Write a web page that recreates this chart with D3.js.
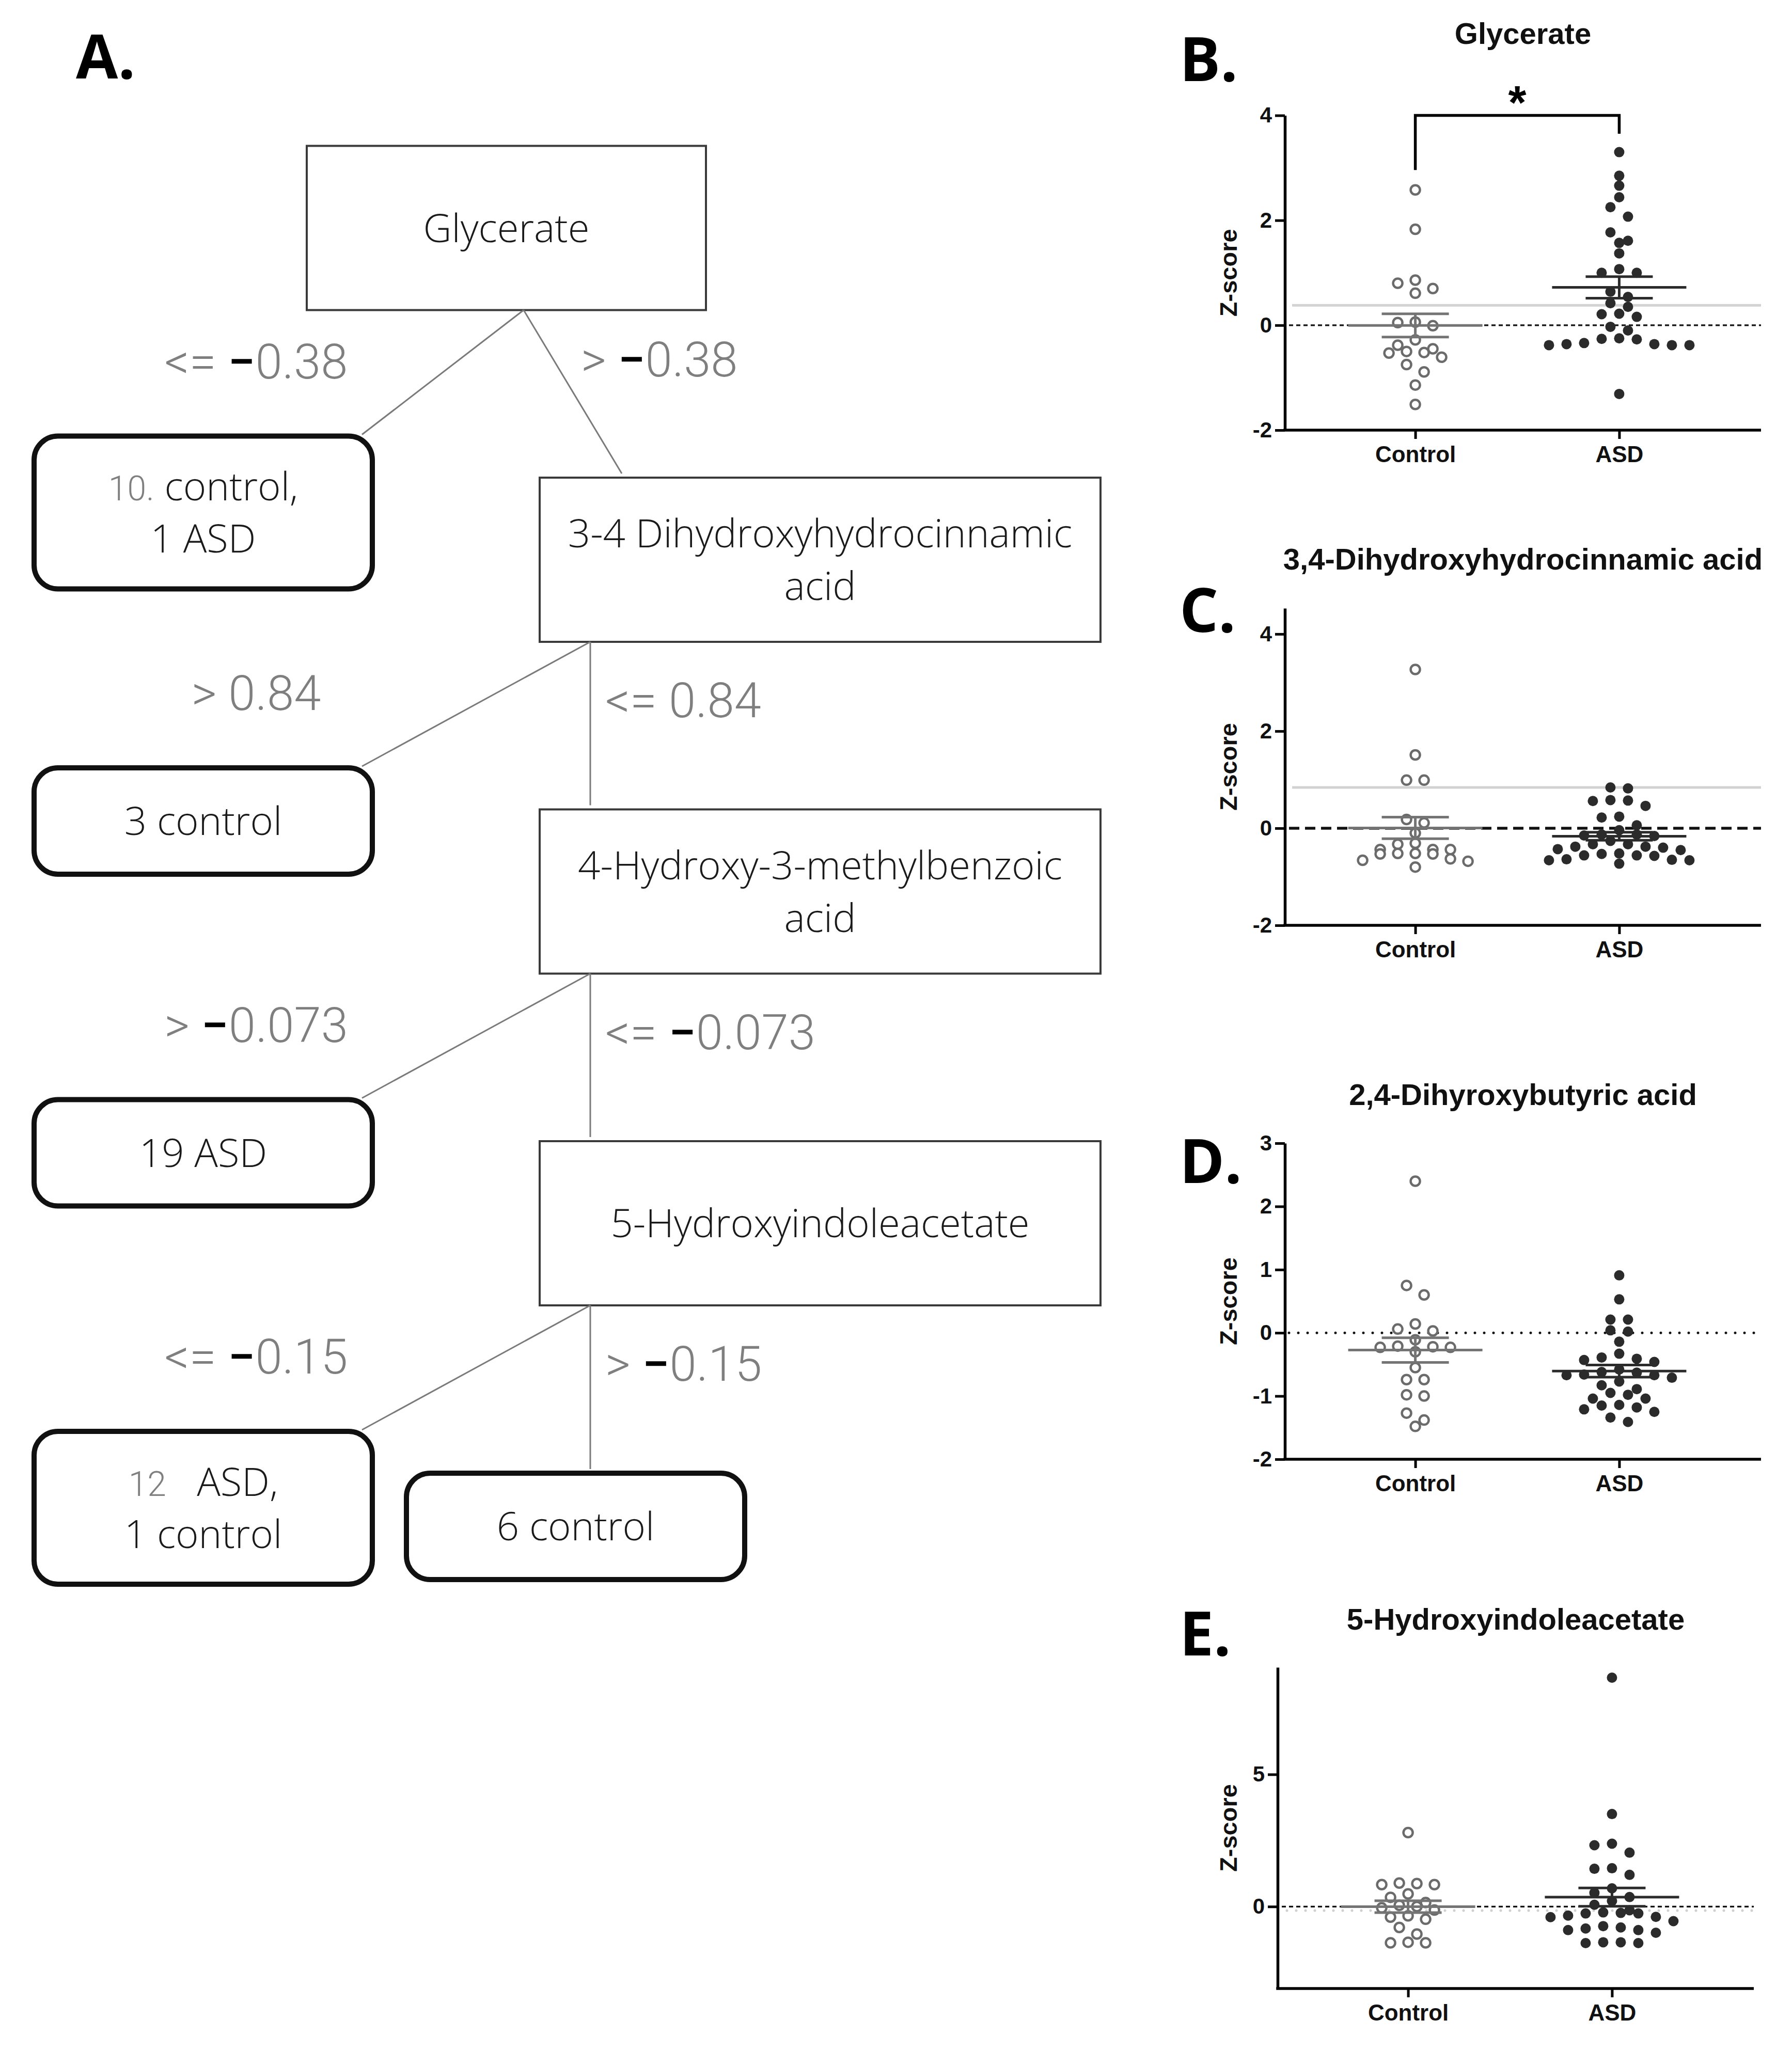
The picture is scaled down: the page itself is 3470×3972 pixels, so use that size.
<!DOCTYPE html>
<html>
<head>
<meta charset="utf-8">
<script src="https://cdn.jsdelivr.net/npm/d3@7"></script>
<style>
  body { margin: 0; background: #fff; }
</style>
</head>
<body>
<div id="fig"></div>
<script>
"use strict"

// ---- tree (panel A) ----
const splitNames = [["Glycerate"], ["3-4 Dihydroxyhydrocinnamic", "acid"],
    ["4-Hydroxy-3-methylbenzoic", "acid"], ["5-Hydroxyindoleacetate"]];
const leftRules = [["<= ", "−", "0.38"], ["> ", "", "0.84"], ["> ", "−", "0.073"], ["<= ", "−", "0.15"]];
const rightRules = [["> ", "−", "0.38"], ["<= ", "", "0.84"], ["<= ", "−", "0.073"], ["> ", "−", "0.15"]];
// each line: [gray count, rest]
const leafLines = [
    [["10.", " control,"], ["", "1 ASD"]],
    [["", "3 control"]],
    [["", "19 ASD"]],
    [["12", "   ASD,"], ["", "1 control"]],
    [["", "6 control"]]
];

// ---- dot plots (panels B-E) ----
const groups = ["Control", "ASD"];
const panelTitles = ["Glycerate", "3,4-Dihydroxyhydrocinnamic acid", "2,4-Dihyroxybutyric acid", "5-Hydroxyindoleacetate"];
const panelLetters = ["B.", "C.", "D.", "E."];
const yTicksB = [-2, 0, 2, 4];
const yTicksC = [-2, 0, 2, 4];
const yTicksD = [-2, -1, 0, 1, 2, 3];
const yTicksE = [0, 5];
const cutoffs = [0.38, 0.84, null, -0.15];

const glycerateControl = [2.58, 1.83, 0.86, 0.80, 0.70, 0.61, 0.06, 0.05, -0.01, -0.28, -0.38, -0.45, -0.50,
    -0.52, -0.53, -0.61, -0.75, -0.89, -1.14, -1.51];
const glycerateASD = [3.30, 2.85, 2.66, 2.44, 2.25, 2.07, 1.77, 1.61, 1.57, 1.37, 1.07, 1.00, 1.00, 0.64, 0.54,
    0.42, 0.35, 0.22, 0.21, 0.16, -0.03, -0.10, -0.25, -0.26, -0.27, -0.34, -0.36, -0.36, -0.38, -0.38, -0.38, -1.31];
const dhcaControl = [3.27, 1.51, 0.99, 0.99, 0.18, 0.11, -0.10, -0.31, -0.33, -0.44, -0.44, -0.44, -0.52, -0.52,
    -0.53, -0.53, -0.63, -0.66, -0.68, -0.80];
const dhcaASD = [0.84, 0.82, 0.58, 0.57, 0.56, 0.46, 0.24, 0.22, 0.06, -0.04, -0.13, -0.13, -0.15, -0.16, -0.26,
    -0.33, -0.33, -0.38, -0.38, -0.40, -0.43, -0.45, -0.52, -0.53, -0.56, -0.56, -0.57, -0.64, -0.65, -0.66, -0.66, -0.73];
const dhbaControl = [2.40, 0.75, 0.60, 0.14, 0.06, 0.03, -0.11, -0.21, -0.22, -0.23, -0.23, -0.30, -0.55, -0.74,
    -0.74, -0.98, -1.00, -1.27, -1.38, -1.48];
const dhbaASD = [0.91, 0.53, 0.21, 0.21, 0.04, 0.02, -0.14, -0.33, -0.39, -0.41, -0.43, -0.46, -0.58, -0.62, -0.63,
    -0.66, -0.67, -0.67, -0.71, -0.77, -0.83, -0.89, -0.95, -0.98, -1.04, -1.04, -1.14, -1.15, -1.18, -1.21, -1.25,
    -1.34, -1.41];
const hiaaControl = [2.80, 0.89, 0.87, 0.83, 0.83, 0.48, 0.35, 0.15, 0.05, 0.00, -0.05, -0.13, -0.35, -0.40,
    -0.48, -0.79, -1.04, -1.35, -1.37, -1.37];
const hiaaASD = [8.66, 3.50, 2.38, 2.32, 2.04, 1.45, 1.43, 1.20, 0.69, 0.52, 0.36, 0.21, 0.07, -0.14, -0.22,
    -0.24, -0.26, -0.26, -0.34, -0.39, -0.40, -0.55, -0.74, -0.79, -0.83, -0.89, -0.89, -0.99, -1.35, -1.35, -1.38, -1.38];

const width = 3470, height = 3972;
const treeFont = "'Open Sans', 'DejaVu Sans', sans-serif";
const ruleFont = "Roboto, 'Open Sans', sans-serif";
const plotFont = "'Liberation Sans', Arial, sans-serif";

const svg = d3.select("#fig").append("svg")
    .attr("width", width)
    .attr("height", height)
    .style("background", "#fff");

// ================= panel A =================
svg.append("text")
    .attr("x", 147).attr("y", 152)
    .attr("font-family", "'Open Sans', sans-serif")
    .attr("font-weight", 700)
    .attr("font-size", 118)
    .text("A.");

const rowTop = d3.scaleLinear().domain([1, 3]).range([925, 2210]);
const boxH = 318;
const colLeft = 1045, colW = 1086, branchX = 1143;
const rootLeft = 594, rootW = 773, rootBranchX = 1014;
const leafLeft = 66, leafW = 655, leafCorner = 701;

const tree = svg.append("g").attr("class", "tree");

splitNames.forEach((name, i) => {
    const top = rowTop(i);
    const left = i === 0 ? rootLeft : colLeft;
    const w = i === 0 ? rootW : colW;
    const bx = i === 0 ? rootBranchX : branchX;
    const bottom = top + boxH;

    tree.append("rect")
        .attr("x", left).attr("y", top)
        .attr("width", w).attr("height", boxH)
        .attr("fill", "#fff").attr("stroke", "#3a3a3a").attr("stroke-width", 4);

    const t = tree.append("text")
        .attr("text-anchor", "middle")
        .attr("font-family", treeFont)
        .attr("font-weight", 300)
        .attr("font-size", 76)
        .attr("fill", "#1a1a1a");
    name.forEach((line, j) => {
        t.append("tspan")
            .attr("x", left + w / 2)
            .attr("y", top + boxH / 2 + 27 + (j - (name.length - 1) / 2) * 102)
            .text(line);
    });

    // branches
    const leafTop = top + 562;
    tree.append("line")
        .attr("x1", bx).attr("y1", bottom)
        .attr("x2", leafCorner).attr("y2", leafTop - 3)
        .attr("stroke", "#7a7a7a").attr("stroke-width", 3);
    const nextTop = i < splitNames.length - 1 ? rowTop(i + 1) : rowTop(i) + 643;
    tree.append("line")
        .attr("x1", bx).attr("y1", bottom)
        .attr("x2", i === 0 ? 1204 : branchX).attr("y2", nextTop - 8)
        .attr("stroke", "#7a7a7a").attr("stroke-width", 3);

    // rule labels
    const drawRule = (parts, x, y, anchor) => {
        const r = tree.append("text")
            .attr("x", x).attr("y", y)
            .attr("text-anchor", anchor)
            .attr("dominant-baseline", "central")
            .attr("font-family", ruleFont)
            .attr("font-weight", 300)
            .attr("font-size", 94)
            .attr("fill", "#7f7f7f");
        r.append("tspan").text(parts[0]);
        if (parts[1]) r.append("tspan").attr("fill", "#000").attr("font-weight", 500).text(parts[1]);
        r.append("tspan").text(parts[2]);
    };
    drawRule(leftRules[i], 496, top + 418, "middle");
    drawRule(rightRules[i], i === 0 ? 1125 : 1172, top + (i === 0 ? 414 : 432), "start");
});

// leaves
leafLines.forEach((lines, i) => {
    const last = i === leafLines.length - 1;
    const top = last ? rowTop(3) + 643 : rowTop(i) + 562;
    const left = last ? 787 : leafLeft;
    const h = 116 + 90 * lines.length;
    tree.append("rect")
        .attr("x", left).attr("y", top)
        .attr("width", leafW).attr("height", h)
        .attr("rx", 46).attr("ry", 46)
        .attr("fill", "#fff").attr("stroke", "#111").attr("stroke-width", 10);
    lines.forEach((seg, j) => {
        const t = tree.append("text")
            .attr("x", left + leafW / 2)
            .attr("y", top + h / 2 + 27 + (j - (lines.length - 1) / 2) * 101)
            .attr("text-anchor", "middle")
            .attr("font-family", treeFont)
            .attr("font-weight", 300)
            .attr("font-size", 76)
            .attr("fill", "#1a1a1a")
            .attr("xml:space", "preserve");
        if (seg[0]) t.append("tspan")
            .attr("font-family", ruleFont).attr("font-size", 66)
            .attr("fill", "#808080").text(seg[0]);
        t.append("tspan").text(seg[1]);
    });
});

// ================= panels B-E =================
const panels = [
    { ctl: glycerateControl, asd: glycerateASD, ticks: yTicksB, domain: [-2, 4], range: [833, 223.5],
      axisX: 2488, xEnd: 3410, titleY: 64, letterY: 157, zero: "fine" },
    { ctl: dhcaControl, asd: dhcaASD, ticks: yTicksC, domain: [-2, 4.53], range: [1792, 1178],
      axisX: 2488, xEnd: 3410, titleY: 1082, letterY: 1224, zero: "dash" },
    { ctl: dhbaControl, asd: dhbaASD, ticks: yTicksD, domain: [-2, 3], range: [2826, 2214],
      axisX: 2488, xEnd: 3410, titleY: 2119, letterY: 2291, zero: "dot" },
    { ctl: hiaaControl, asd: hiaaASD, ticks: yTicksE, domain: [-3.1, 9.05], range: [3851, 3229],
      axisX: 2474, xEnd: 3396, titleY: 3135, letterY: 3206, zero: "fine" }
];

const zeroDash = { fine: ["8,6", 3.2, "butt"], dash: ["20,11", 5.5, "butt"], dot: ["0,18", 5, "round"] };

// GraphPad-like scatter: values within one symbol height share a row, rows centred
function swarm(values, y, cx) {
    const step = 34, bin = 19, maxRow = 9;
    const sorted = values.slice().sort((a, b) => b - a);
    const rows = [];
    let cur = [];
    sorted.forEach(v => {
        if (cur.length && (y(v) - y(cur[0]) >= bin || cur.length >= maxRow)) {
            rows.push(cur);
            cur = [];
        }
        cur.push(v);
    });
    if (cur.length) rows.push(cur);
    const pts = [];
    rows.forEach(row => {
        const k = row.length;
        const slots = d3.range(k).map(i => i - (k - 1) / 2)
            .sort((a, b) => Math.abs(a) - Math.abs(b) || a - b);
        row.forEach((v, i) => pts.push({ v: v, x: cx + slots[i] * step }));
    });
    return pts;
}

panels.forEach((p, pi) => {
    const g = svg.append("g").attr("class", "panel");
    const y = d3.scaleLinear().domain(p.domain).range(p.range);
    const x = d3.scalePoint().domain(groups).range([p.axisX - 8, p.xEnd - 14]).padding(0.66);
    const midX = (p.axisX + p.xEnd) / 2;

    g.append("text")
        .attr("x", 2284).attr("y", p.letterY)
        .attr("font-family", "'Open Sans', sans-serif")
        .attr("font-weight", 700)
        .attr("font-size", 118)
        .text(panelLetters[pi]);

    g.append("text")
        .attr("x", midX).attr("y", p.titleY)
        .attr("text-anchor", "middle")
        .attr("dominant-baseline", "central")
        .attr("font-family", plotFont)
        .attr("font-weight", 700)
        .attr("font-size", 58)
        .attr("fill", "#111")
        .text(panelTitles[pi]);

    g.append("text")
        .attr("transform", `translate(2378,${(p.range[0] + p.range[1]) / 2}) rotate(-90)`)
        .attr("text-anchor", "middle")
        .attr("dominant-baseline", "central")
        .attr("font-family", plotFont)
        .attr("font-weight", 700)
        .attr("font-size", 47)
        .attr("fill", "#111")
        .text("Z-score");

    // reference lines
    const c = cutoffs[pi];
    if (c !== null && pi < 2) {
        g.append("line")
            .attr("x1", p.axisX + 14).attr("x2", p.xEnd)
            .attr("y1", y(c)).attr("y2", y(c))
            .attr("stroke", "#d2d2d2").attr("stroke-width", 5);
    }
    if (c !== null && pi === 3) {
        g.append("line")
            .attr("x1", p.axisX + 18).attr("x2", p.xEnd)
            .attr("y1", y(c)).attr("y2", y(c))
            .attr("stroke", "#cfcfcf").attr("stroke-width", 5)
            .attr("stroke-linecap", "round").attr("stroke-dasharray", "0,18");
    }
    const zd = zeroDash[p.zero];
    g.append("line")
        .attr("x1", p.axisX + 8).attr("x2", p.xEnd)
        .attr("y1", y(0)).attr("y2", y(0))
        .attr("stroke", "#111").attr("stroke-width", zd[1])
        .attr("stroke-linecap", zd[2]).attr("stroke-dasharray", zd[0]);

    // points
    const ctlPts = swarm(p.ctl, y, x("Control"));
    const asdPts = swarm(p.asd, y, x("ASD"));
    g.append("g").selectAll("circle").data(ctlPts).join("circle")
        .attr("cx", d => d.x).attr("cy", d => y(d.v))
        .attr("r", 9).attr("fill", "#fff")
        .attr("stroke", "#6b6b6b").attr("stroke-width", 4.5);
    g.append("g").selectAll("circle").data(asdPts).join("circle")
        .attr("cx", d => d.x).attr("cy", d => y(d.v))
        .attr("r", 10).attr("fill", "#2b2b2b");

    // mean +/- SEM
    [["Control", p.ctl, "#747474"], ["ASD", p.asd, "#2b2b2b"]].forEach(([grp, vals, col]) => {
        const m = d3.mean(vals);
        const se = d3.deviation(vals) / Math.sqrt(vals.length);
        const cx = x(grp);
        const eg = g.append("g").attr("stroke", col).attr("stroke-width", 5);
        eg.append("line").attr("x1", cx - 130).attr("x2", cx + 130).attr("y1", y(m)).attr("y2", y(m));
        eg.append("line").attr("x1", cx - 65).attr("x2", cx + 65).attr("y1", y(m + se)).attr("y2", y(m + se));
        eg.append("line").attr("x1", cx - 65).attr("x2", cx + 65).attr("y1", y(m - se)).attr("y2", y(m - se));
        eg.append("line").attr("x1", cx).attr("x2", cx).attr("y1", y(m + se)).attr("y2", y(m - se));
    });

    // axes
    const yAxis = d3.axisLeft(y).tickValues(p.ticks).tickSize(19).tickSizeOuter(0).tickPadding(6)
        .tickFormat(d => String(d));
    const ya = g.append("g").attr("transform", `translate(${p.axisX},0)`).call(yAxis);
    const xAxis = d3.axisBottom(x).tickSize(17).tickSizeOuter(0).tickPadding(14);
    const xa = g.append("g").attr("transform", `translate(0,${p.range[0]})`).call(xAxis);
    xa.select(".domain").attr("d", `M${p.axisX - 2.75},0H${p.xEnd}`);
    [ya, xa].forEach(a => {
        a.select(".domain").attr("stroke", "#000").attr("stroke-width", 5.5);
        a.selectAll(".tick line").attr("stroke", "#000").attr("stroke-width", 5);
        a.selectAll(".tick text")
            .attr("font-family", plotFont)
            .attr("font-weight", 700)
            .attr("fill", "#111");
    });
    ya.selectAll(".tick text").attr("font-size", 42);
    xa.selectAll(".tick text").attr("font-size", 44);

    // significance bracket (Glycerate only)
    if (pi === 0) {
        g.append("path")
            .attr("d", d3.line()([[x("Control"), y(2.96)], [x("Control"), y(4)], [x("ASD"), y(4)], [x("ASD"), y(3.65)]]))
            .attr("fill", "none").attr("stroke", "#000").attr("stroke-width", 5.5);
        g.append("text")
            .attr("x", (x("Control") + x("ASD")) / 2).attr("y", y(4) + 6)
            .attr("text-anchor", "middle")
            .attr("font-family", plotFont)
            .attr("font-weight", 700)
            .attr("font-size", 90)
            .text("*");
    }
});
</script>
</body>
</html>
